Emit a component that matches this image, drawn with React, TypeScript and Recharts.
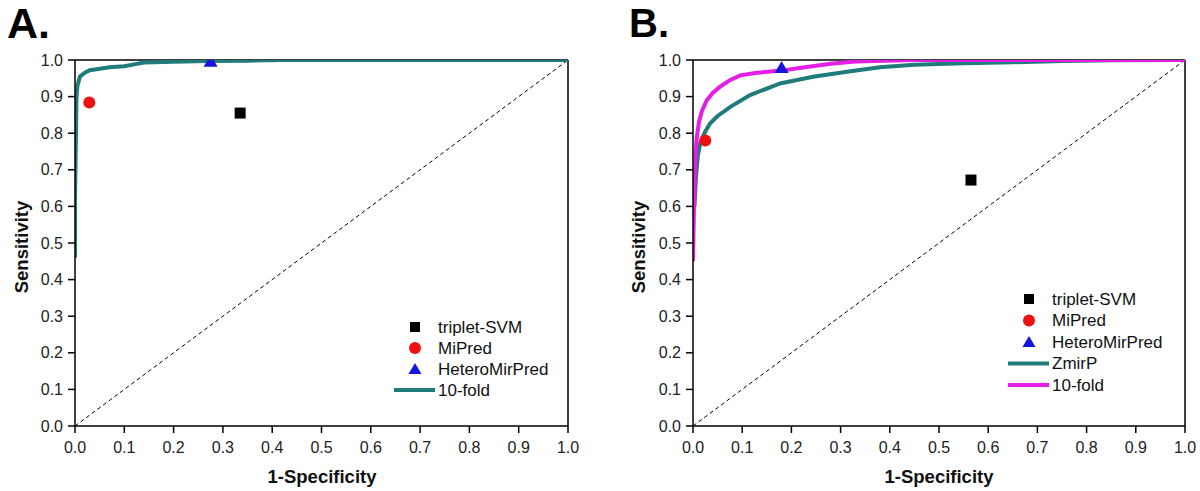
import { ComposedChart, Line, Scatter, XAxis, YAxis, ReferenceLine } from 'recharts'

// axis ticks shared by both panels
const ticks = [0, 0.1, 0.2, 0.3, 0.4, 0.5, 0.6, 0.7, 0.8, 0.9, 1.0]

// panel A
const rocA10fold = [
    { x: 0, y: 0.46 }, { x: 0, y: 0.62 }, { x: 0.002, y: 0.8 }, { x: 0.003, y: 0.9 },
    { x: 0.005, y: 0.93 }, { x: 0.01, y: 0.955 }, { x: 0.02, y: 0.965 }, { x: 0.03, y: 0.972 },
    { x: 0.05, y: 0.976 }, { x: 0.07, y: 0.98 }, { x: 0.1, y: 0.983 }, { x: 0.12, y: 0.988 },
    { x: 0.14, y: 0.993 }, { x: 0.2, y: 0.995 }, { x: 0.27, y: 0.997 }, { x: 0.35, y: 0.998 },
    { x: 0.42, y: 1.0 }, { x: 1.0, y: 1.0 },
]
const tripletA = [{ x: 0.335, y: 0.855 }]
const mipredA = [{ x: 0.029, y: 0.884 }]
const heteroA = [{ x: 0.275, y: 0.995 }]

// panel B
const rocBZmirP = [
    { x: 0.003, y: 0.6 }, { x: 0.006, y: 0.68 }, { x: 0.01, y: 0.74 }, { x: 0.015, y: 0.775 },
    { x: 0.025, y: 0.805 }, { x: 0.035, y: 0.827 }, { x: 0.05, y: 0.847 }, { x: 0.076, y: 0.872 },
    { x: 0.116, y: 0.904 }, { x: 0.177, y: 0.936 }, { x: 0.244, y: 0.954 }, { x: 0.313, y: 0.968 },
    { x: 0.38, y: 0.98 }, { x: 0.45, y: 0.987 }, { x: 0.55, y: 0.991 }, { x: 0.65, y: 0.994 },
    { x: 0.75, y: 0.997 }, { x: 0.85, y: 0.999 }, { x: 1.0, y: 1.0 },
]
const rocB10fold = [
    { x: 0, y: 0.45 }, { x: 0.002, y: 0.6 }, { x: 0.004, y: 0.7 }, { x: 0.007, y: 0.78 },
    { x: 0.012, y: 0.83 }, { x: 0.018, y: 0.86 }, { x: 0.028, y: 0.89 }, { x: 0.04, y: 0.91 },
    { x: 0.055, y: 0.927 }, { x: 0.075, y: 0.945 }, { x: 0.096, y: 0.958 }, { x: 0.13, y: 0.965 },
    { x: 0.18, y: 0.971 }, { x: 0.22, y: 0.979 }, { x: 0.28, y: 0.99 }, { x: 0.33, y: 0.996 },
    { x: 0.45, y: 1.0 }, { x: 1.0, y: 1.0 },
]
const tripletB = [{ x: 0.565, y: 0.672 }]
const mipredB = [{ x: 0.025, y: 0.78 }]
const heteroB = [{ x: 0.18, y: 0.978 }]

const TEAL = '#1f7c7a'
const MAGENTA = '#e41ee4'
const RED = '#ee1111'
const BLUE = '#1515dd'
const FONT = 'Arial, "Liberation Sans", sans-serif'

const SquareShape = (p: any) => <rect x={p.cx - 5.5} y={p.cy - 5.5} width={11} height={11} fill="#000" />
const CircleShape = (p: any) => <circle cx={p.cx} cy={p.cy} r={6} fill={RED} />
const TriangleShape = (p: any) => (
    <polygon points={`${p.cx},${p.cy - 7} ${p.cx + 7},${p.cy + 5} ${p.cx - 7},${p.cy + 5}`} fill={BLUE} />
)

const fmt = (v: number) => v.toFixed(1)

type LegendRow = { kind: string, label: string, color: string }

const legendA: LegendRow[] = [
    { kind: 'square', label: 'triplet-SVM', color: '#000' },
    { kind: 'circle', label: 'MiPred', color: RED },
    { kind: 'triangle', label: 'HeteroMirPred', color: BLUE },
    { kind: 'line', label: '10-fold', color: TEAL },
]
const legendB: LegendRow[] = [
    { kind: 'square', label: 'triplet-SVM', color: '#000' },
    { kind: 'circle', label: 'MiPred', color: RED },
    { kind: 'triangle', label: 'HeteroMirPred', color: BLUE },
    { kind: 'line', label: 'ZmirP', color: TEAL },
    { kind: 'line', label: '10-fold', color: MAGENTA },
]

const LegendBox = ({ rows, x, y, step }: { rows: LegendRow[], x: number, y: number, step: number }) => (
    <g>
        {rows.map((r, i) => {
            const cy = y + i * step
            const sx = x - 23
            return (
                <g key={r.label}>
                    {r.kind === 'square' && <rect x={sx - 5} y={cy - 5} width={10} height={10} fill={r.color} />}
                    {r.kind === 'circle' && <circle cx={sx} cy={cy} r={6} fill={r.color} />}
                    {r.kind === 'triangle' && <polygon points={`${sx},${cy - 6} ${sx + 6.5},${cy + 5} ${sx - 6.5},${cy + 5}`} fill={r.color} />}
                    {r.kind === 'line' && <line x1={x - 44} x2={x - 3} y1={cy} y2={cy} stroke={r.color} strokeWidth={4} />}
                    <text x={x} y={cy} dy="0.35em" fontSize={17} fontFamily={FONT} fill="#111">{r.label}</text>
                </g>
            )
        })}
    </g>
)

const axisTick = { fontSize: 16, fontFamily: FONT, fill: '#222' }
const titleStyle = { fontSize: 18.5, fontWeight: 'bold', fontFamily: FONT, fill: '#111' }

const App = () => {
    return (
        <div style={{ position: 'absolute', left: 0, top: 0, width: 1200, height: 491, overflow: 'hidden', background: '#fff' }}>
            <div style={{ position: 'absolute', left: 0, top: 0 }}>
                <ComposedChart width={600} height={491} margin={{ top: 60, right: 32, bottom: 0, left: 0 }}>
                    <XAxis type="number" dataKey="x" domain={[0, 1]} ticks={ticks} tickFormatter={fmt}
                        height={65} tickSize={7} tickMargin={9} tick={axisTick}
                        axisLine={{ stroke: '#000', strokeWidth: 1.5 }} tickLine={{ stroke: '#000', strokeWidth: 1.5 }} allowDataOverflow />
                    <YAxis type="number" dataKey="y" domain={[0, 1]} ticks={ticks} tickFormatter={fmt}
                        width={75} tickSize={7} tickMargin={5} tick={axisTick}
                        axisLine={{ stroke: '#000', strokeWidth: 1.5 }} tickLine={{ stroke: '#000', strokeWidth: 1.5 }} allowDataOverflow />
                    <ReferenceLine y={1} stroke="#000" strokeWidth={1.5} />
                    <ReferenceLine x={1} stroke="#000" strokeWidth={1.5} />
                    <ReferenceLine segment={[{ x: 0, y: 0 }, { x: 1, y: 1 }]} stroke="#000" strokeWidth={1} strokeDasharray="4 3" />
                    <Scatter data={tripletA} shape={SquareShape} isAnimationActive={false} />
                    <Scatter data={mipredA} shape={CircleShape} isAnimationActive={false} />
                    <Scatter data={heteroA} shape={TriangleShape} isAnimationActive={false} />
                    <Line data={rocA10fold} dataKey="y" type="linear" stroke={TEAL} strokeWidth={4} dot={false} isAnimationActive={false} />
                    <LegendBox rows={legendA} x={438} y={327} step={21} />
                    <text x={7} y={38} fontSize={43} fontWeight="bold" fontFamily={FONT} fill="#000">A.</text>
                    <text x={322} y={483} textAnchor="middle" style={titleStyle}>1-Specificity</text>
                    <text x={0} y={0} transform="translate(28,247) rotate(-90)" textAnchor="middle" style={titleStyle}>Sensitivity</text>
                </ComposedChart>
            </div>
            <div style={{ position: 'absolute', left: 600, top: 0 }}>
                <ComposedChart width={600} height={491} margin={{ top: 60, right: 15, bottom: 0, left: 0 }}>
                    <XAxis type="number" dataKey="x" domain={[0, 1]} ticks={ticks} tickFormatter={fmt}
                        height={65} tickSize={7} tickMargin={9} tick={axisTick}
                        axisLine={{ stroke: '#000', strokeWidth: 1.5 }} tickLine={{ stroke: '#000', strokeWidth: 1.5 }} allowDataOverflow />
                    <YAxis type="number" dataKey="y" domain={[0, 1]} ticks={ticks} tickFormatter={fmt}
                        width={93} tickSize={7} tickMargin={5} tick={axisTick}
                        axisLine={{ stroke: '#000', strokeWidth: 1.5 }} tickLine={{ stroke: '#000', strokeWidth: 1.5 }} allowDataOverflow />
                    <ReferenceLine y={1} stroke="#000" strokeWidth={1.5} />
                    <ReferenceLine x={1} stroke="#000" strokeWidth={1.5} />
                    <ReferenceLine segment={[{ x: 0, y: 0 }, { x: 1, y: 1 }]} stroke="#000" strokeWidth={1} strokeDasharray="4 3" />
                    <Scatter data={tripletB} shape={SquareShape} isAnimationActive={false} />
                    <Scatter data={mipredB} shape={CircleShape} isAnimationActive={false} />
                    <Scatter data={heteroB} shape={TriangleShape} isAnimationActive={false} />
                    <Line data={rocBZmirP} dataKey="y" type="linear" stroke={TEAL} strokeWidth={4} dot={false} isAnimationActive={false} />
                    <Line data={rocB10fold} dataKey="y" type="linear" stroke={MAGENTA} strokeWidth={4} dot={false} isAnimationActive={false} />
                    <LegendBox rows={legendB} x={452} y={299} step={21.5} />
                    <text x={29} y={37} fontSize={40} fontWeight="bold" fontFamily={FONT} fill="#000">B.</text>
                    <text x={339} y={483} textAnchor="middle" style={titleStyle}>1-Specificity</text>
                    <text x={0} y={0} transform="translate(45,247) rotate(-90)" textAnchor="middle" style={titleStyle}>Sensitivity</text>
                </ComposedChart>
            </div>
        </div>
    )
}

export default App
